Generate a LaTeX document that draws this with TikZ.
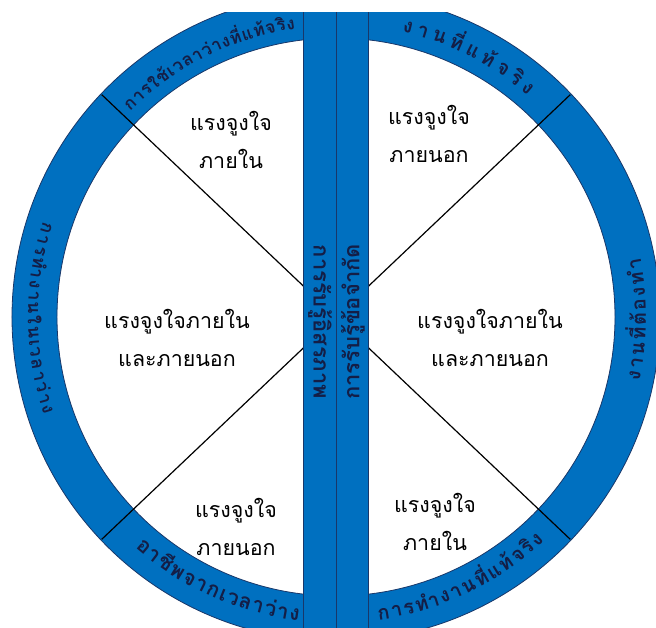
\documentclass[tikz,border=0pt]{standalone}
\usepackage{fontspec}
\setmainfont[Script=Thai]{Loma}
\usetikzlibrary{positioning,calc}
\usetikzlibrary{decorations.text}
\definecolor{RingBlue}{RGB}{0,112,192}
\definecolor{RingEdge}{RGB}{25,55,105}
\definecolor{RingInk}{RGB}{20,30,70}
\tikzset{ringfill/.style={fill=RingBlue,draw=RingEdge,line width=0.8pt,even odd rule}, halfbar/.style={fill=RingBlue,draw=RingEdge,line width=0.8pt}, spoke/.style={draw=black,line width=1.2pt}, lab/.style={align=center,font=\fontsize{21.5}{38}\selectfont,inner sep=0pt}, barlab/.style={font=\bfseries\fontsize{22}{24}\selectfont,text=RingInk,inner sep=0pt}, arclab/.style 2 args={decorate,decoration={text along path,text align=fit to path,text color=RingInk,text={|\bfseries\fontsize{#1}{#1}\selectfont|#2}}}}

\begin{document}
\begin{tikzpicture}[x=1bp,y=1bp]
\useasboundingbox (-336,-311) rectangle (320,317);
\clip (-336,-311) rectangle (320,304);
\coordinate (c) at (0,0);
\coordinate (sa) at (43.5:323bp);
\coordinate (sb) at (136.5:323bp);
\coordinate (sc) at (223.5:323bp);
\coordinate (sd) at (316.5:323bp);
\path[ringfill] (c) circle[radius=324bp] (c) circle[radius=279bp];
\draw[spoke] (c)--(sa);
\draw[spoke] (c)--(sb);
\draw[spoke] (c)--(sc);
\draw[spoke] (c)--(sd);
\draw[halfbar] (-32.5,-320) rectangle (0,320);
\draw[halfbar] (0,-320) rectangle (32.5,320);
% text in the ring
\path[arclab={17.5}{{ก}{า}{ร}{ใ}{ช้}{เ}{ว}{ล}{า}{ว่}{า}{ง}{ที่}{แ}{ท้}{จ}{ริ}{ง}}] (135:291bp) arc[start angle=135,end angle=98,radius=291bp];
\path[arclab={20}{{ง}{า}{น}{ที่}{แ}{ท้}{จ}{ริ}{ง}}] (77:293bp) arc[start angle=77,end angle=49,radius=293bp];
\path[arclab={20}{{ง}{า}{น}{ที่}{ต้}{อ}{ง}{ทำ}}] (-12:310bp) arc[start angle=-12,end angle=11,radius=310bp];
\path[arclab={18}{{ก}{า}{ร}{ทำ}{ง}{า}{น}{ใ}{น}{เ}{ว}{ล}{า}{ว่}{า}{ง}}] (162:308bp) arc[start angle=162,end angle=198.5,radius=308bp];
\path[arclab={21}{{อ}{า}{ชี}{พ}{จ}{า}{ก}{เ}{ว}{ล}{า}{ว่}{า}{ง}}] (229:306bp) arc[start angle=229,end angle=263,radius=306bp];
\path[arclab={20}{{ก}{า}{ร}{ทำ}{ง}{า}{น}{ที่}{แ}{ท้}{จ}{ริ}{ง}}] (278:306bp) arc[start angle=278,end angle=313,radius=306bp];
% text in the bar
\node[barlab,rotate=-90] (free) at (-16,-5) {การรับรู้อิสรภาพ};
\node[barlab,rotate=90] (limit) at (17,-5) {การรับรู้ข้อจำกัด};
% the six parts
\node[lab] (ul) at (-105,177) {แรงจูงใจ\\ภายใน};
\node[lab] (ur) at (93,183) {แรงจูงใจ\\ภายนอก};
\node[lab] (ml) at (-159,-21) {แรงจูงใจภายใน\\และภายนอก};
\node[lab] (mr) at (154,-21) {แรงจูงใจภายใน\\และภายนอก};
\node[lab] (ll) at (-100,-210) {แรงจูงใจ\\ภายนอก};
\node[lab] (lr) at (99,-205) {แรงจูงใจ\\ภายใน};
\end{tikzpicture}
\end{document}
